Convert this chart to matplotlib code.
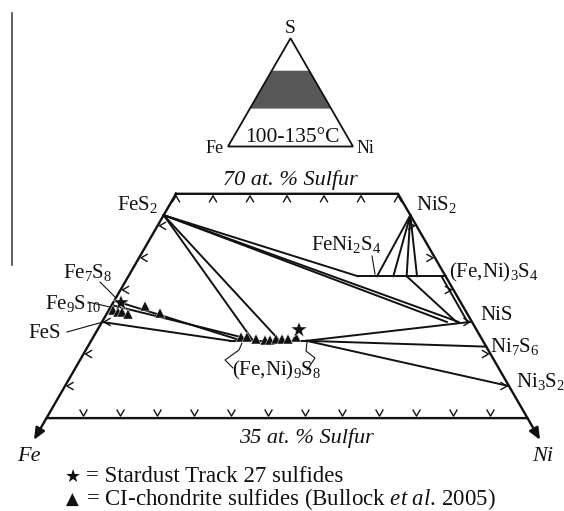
import numpy as np
import matplotlib
matplotlib.use("Agg")
import matplotlib.pyplot as plt
from matplotlib.patches import Polygon

plt.rcParams['font.family'] = ['Liberation Serif', 'DejaVu Sans']
plt.rcParams['mathtext.fontset'] = 'custom'
plt.rcParams['mathtext.rm'] = 'Liberation Serif'
plt.rcParams['mathtext.it'] = 'Liberation Serif:italic'

# ---------------- data (at.% S, at.% Ni ; Fe = balance) ----------------
S_BOTTOM, S_TOP = 35, 70
ni_ticks_top = [0, 5, 10, 15, 20, 25, 30]
ni_ticks_bottom = [5, 10, 15, 20, 25, 30, 35, 40, 45, 50, 55, 60]
s_ticks_edge = [40, 45, 50, 55, 60, 65]

VIOL_S = 57.14          # (Fe,Ni)3S4
PENT_S = 47.06          # (Fe,Ni)9S8
viol_range_ni = [31.0, 42.86]
pent_range_ni = [18.8, 29.1]

# tie lines: start (S, Ni) -> end (S, Ni)
tie_s0 = [66.67, 66.67, 66.67, 57.14, 57.14, 66.67, 66.67, 66.67, 66.67,
          66.67, 66.67, 53.33, 52.63, 50.0, 47.06, 47.06, 47.06]
tie_ni0 = [0, 0, 0, 37.6, 42.3, 33.33, 33.33, 33.33, 33.33,
           0, 0, 0, 0, 0, 29.1, 29.1, 29.1]
tie_s1 = [57.14, 50, 50, 50, 50, 57.14, 57.14, 57.14, 57.14,
          47.06, 47.06, 47.06, 47.06, 47.06, 50, 46.15, 40]
tie_ni1 = [31.0, 46.6, 48.2, 47.9, 49.4, 33.6, 35.8, 37.6, 39.0,
           21.9, 25.5, 20.4, 22.3, 18.8, 49.7, 53.85, 60]

# Stardust Track 27 sulfides (stars)
star_s = [53.0, 48.7]
star_ni = [1.1, 27.3]
# CI-chondrite sulfides (triangles)
ci_s = [51.9, 51.6, 51.5, 51.3, 52.5, 51.4,
        47.7, 47.7, 47.3, 47.2, 47.2, 47.3, 47.3, 47.3, 47.6]
ci_ni = [0.6, 1.4, 2.0, 2.8, 4.6, 7.1,
         20.0, 20.7, 22.2, 23.4, 24.1, 24.9, 25.7, 26.5, 27.4]

inset_band_s = [35, 70]

# ---------------- helpers ----------------
SQ = np.sqrt(3) / 2
SCALE = 740.0


def tern(S, Ni):
    S = np.asarray(S, float) / 100.0
    Ni = np.asarray(Ni, float) / 100.0
    return Ni + S / 2, S * SQ


def px(x, y):
    return 0.5 + (x - 287) / SCALE, (642.4 - y) / SCALE


def off(pt, dx, dy):
    return pt[0] + dx / SCALE, pt[1] - dy / SCALE


fig = plt.figure(figsize=(5.64, 5.11), dpi=100)
ax = fig.add_axes([0, 0, 1, 1])
x0, y0 = px(0, 511)
x1, y1 = px(564, 0)
ax.set_xlim(x0, x1)
ax.set_ylim(y0, y1)
ax.axis('off')

K = '#111111'
LW_FRAME = 1.7
LW_TIE = 1.4

# frame (trapezoid)
corners_s = [S_TOP, S_TOP, S_BOTTOM, S_BOTTOM, S_TOP]
corners_ni = [0, 100 - S_TOP, 100 - S_BOTTOM, 0, 0]
X, Y = tern(corners_s, corners_ni)
ax.plot(X, Y, color=K, lw=LW_FRAME, solid_joinstyle='miter', zorder=3)

# arrows to Fe and Ni
for (s_a, ni_a, s_b, ni_b) in [(S_BOTTOM, 0, 31.6, 0), (S_BOTTOM, 100 - S_BOTTOM, 31.6, 100 - 31.6)]:
    pa = tern(s_a, ni_a)
    pb = tern(s_b, ni_b)
    ax.annotate('', xy=pb, xytext=pa,
                arrowprops=dict(arrowstyle='-|>,head_length=0.7,head_width=0.3',
                                color=K, lw=LW_FRAME, shrinkA=0, shrinkB=0))

# tick chevrons
def chevron(pt, direction):
    dx, dy = direction
    nx, ny = -dy, dx
    v = off(pt, dx * 2, dy * 2)
    a = off(pt, dx * 8 + nx * 3.5, dy * 8 + ny * 3.5)
    b = off(pt, dx * 8 - nx * 3.5, dy * 8 - ny * 3.5)
    ax.plot([a[0], v[0], b[0]], [a[1], v[1], b[1]], color=K, lw=1.0, zorder=3)

for ni in ni_ticks_top:
    chevron(tern(S_TOP, ni), (0, 1))
for ni in ni_ticks_bottom:
    chevron(tern(S_BOTTOM, ni), (0, -1))
for s in s_ticks_edge:
    chevron(tern(s, 0), (1, 0))
    chevron(tern(s, 100 - s), (-1, 0))

# solid-solution lines
X, Y = tern([VIOL_S, VIOL_S], viol_range_ni)
ax.plot(X, Y, color=K, lw=LW_TIE, zorder=2)
X, Y = tern([PENT_S, PENT_S], pent_range_ni)
ax.plot(X, Y, color=K, lw=LW_TIE, zorder=2)

# tie lines
for a, b, c, d in zip(tie_s0, tie_ni0, tie_s1, tie_ni1):
    X, Y = tern([a, c], [b, d])
    ax.plot(X, Y, color=K, lw=LW_TIE, zorder=2)

# data points
X, Y = tern(ci_s, ci_ni)
ax.plot(X, Y, ls='none', marker='^', ms=7, color=K, mec='white', mew=0.3, zorder=4)
X, Y = tern(star_s, star_ni)
ax.plot(X, Y, ls='none', marker='*', ms=12, color=K, mec='white', mew=0.3, zorder=5)

# phase labels
FS = 15
def lab(txt, x, y, ha='left', va='baseline', size=FS, **kw):
    ax.text(*px(x, y), txt, ha=ha, va=va, fontsize=size, color=K, **kw)

lab(r'$\mathregular{FeS_2}$', 158, 210, ha='right')
lab(r'$\mathregular{NiS_2}$', 416, 210)
lab(r'$\mathregular{FeNi_2S_4}$', 311, 250)
lab(r'$\mathregular{(Fe{,}Ni)_3S_4}$', 449, 277)
lab('NiS', 480, 320)
lab(r'$\mathregular{Ni_7S_6}$', 490, 352)
lab(r'$\mathregular{Ni_3S_2}$', 516, 387)
lab(r'$\mathregular{Fe_7S_8}$', 63, 278)
lab(r'$\mathregular{Fe_9S_{10}}$', 45, 309)
lab('FeS', 28, 338)
lab(r'$\mathregular{(Fe{,}Ni)_9S_8}$', 232, 375)

lab('70 at. % Sulfur', 223, 185, size=16, style='italic')
lab('35 at. % Sulfur', 239, 443, size=16, style='italic')
lab('Fe', 17, 461, size=16, style='italic')
lab('Ni', 532, 461, size=16, style='italic')

# leader lines
leaders = [
    [(372, 256), (375, 274)],
    [(100, 282), (115, 297)],
    [(88, 302), (110, 307)],
    [(67, 332), (103, 322)],
    [(242, 343), (239, 350), (225, 360), (233, 368)],
    [(307, 342), (306, 351), (315, 358), (307, 370)],
]
for pts in leaders:
    P = np.array([px(*p) for p in pts])
    ax.plot(P[:, 0], P[:, 1], color=K, lw=0.8, zorder=2)

# legend
ax.text(*px(65, 482), '\u2605', fontsize=13, family=['DejaVu Sans'], ha='left', va='baseline', color=K)
lab('= Stardust Track 27 sulfides', 86, 482, size=16.5)
ax.text(*px(66, 505), '\u25B2', fontsize=12, family=['DejaVu Sans'], ha='left', va='baseline', color=K)
lab(r'= CI-chondrite sulfides (Bullock $\mathit{et\ al.}\,$2005)', 86, 505, size=16.5)

# inset triangle
cx, base, side = 290.5, 146.5, 125.0
h = side * SQ
apex = px(cx, base - h)
bl = px(cx - side / 2, base)
br = px(cx + side / 2, base)


def inset_pt(frac_s, left=True):
    w = side * (1 - frac_s) / 2
    return px(cx - w if left else cx + w, base - h * frac_s)

band = [inset_pt(inset_band_s[0] / 100, True), inset_pt(inset_band_s[1] / 100, True),
        inset_pt(inset_band_s[1] / 100, False), inset_pt(inset_band_s[0] / 100, False)]
ax.add_patch(Polygon(band, closed=True, facecolor='#585858', edgecolor='none', zorder=1))
ax.add_patch(Polygon([apex, bl, br], closed=True, facecolor='none', edgecolor=K, lw=1.3, zorder=2))
ax.text(*px(290.5, 28.5), 'S', fontsize=14, ha='center', va='center', color=K)
lab('Fe', 224, 153, ha='right', size=13)
lab('Ni', 357, 153, size=13)
lab('100-135\u00b0C', 292, 142, ha='center', size=15.5)

# stray panel border at left
P = np.array([px(12, 13), px(12, 265)])
ax.plot(P[:, 0], P[:, 1], color='#444444', lw=1.2)

fig.savefig('out.png', dpi=100)
